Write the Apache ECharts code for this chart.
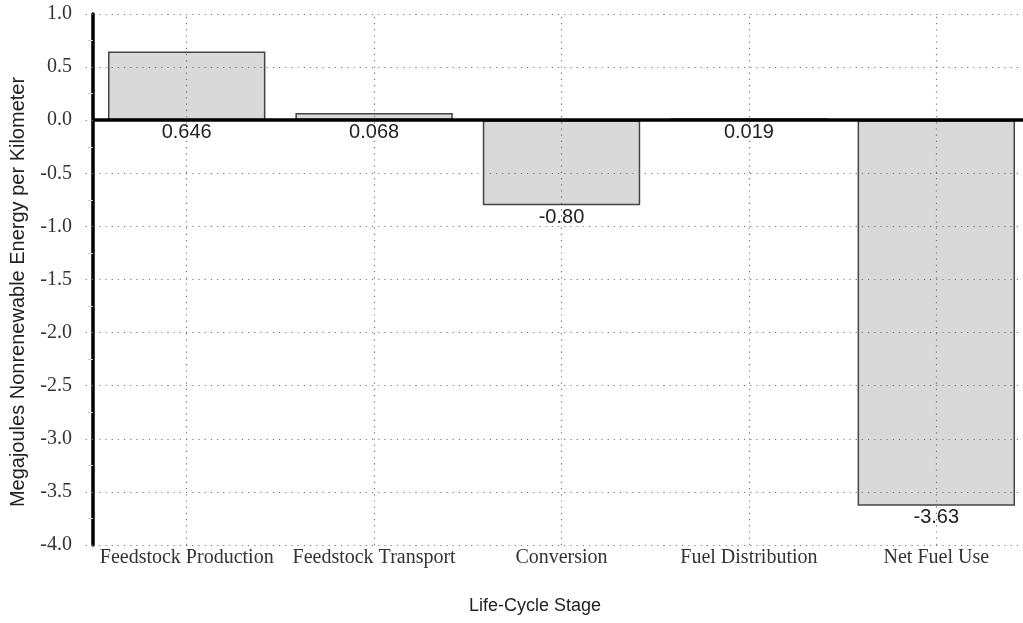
<!DOCTYPE html>
<html>
<head>
<meta charset="utf-8">
<script src="https://cdn.jsdelivr.net/npm/echarts@6/dist/echarts.min.js"></script>
<style>
html,body{margin:0;padding:0;background:#fff;}
#chart{width:1023px;height:623px;}
</style>
</head>
<body>
<div id="chart"></div>
<script>
const categories = ['Feedstock Production', 'Feedstock Transport', 'Conversion', 'Fuel Distribution', 'Net Fuel Use'];
const values = [0.646, 0.068, -0.80, 0.019, -3.63];
const valueLabels = ['0.646', '0.068', '-0.80', '0.019', '-3.63'];
const yMin = -4.0, yMax = 1.0, yStep = 0.5;
const yTitle = 'Megajoules Nonrenewable Energy per Kilometer';
const xTitle = 'Life-Cycle Stage';

const serif = '"Liberation Serif", "DejaVu Serif", serif';
const sans = '"Liberation Sans", Arial, sans-serif';
const dotted = { color: '#777', width: 1.2, type: [1.2, 5] };

const chart = echarts.init(document.getElementById('chart'), null, { renderer: 'canvas' });
chart.setOption({
  animation: false,
  backgroundColor: '#fff',
  grid: { left: 93, top: 14, width: 937, height: 531, containLabel: false, outerBoundsMode: 'none' },
  xAxis: {
    type: 'category',
    data: categories,
    boundaryGap: true,
    axisLine: { show: false, onZero: false },
    axisTick: { show: false },
    splitLine: { show: false },
    axisLabel: { fontFamily: serif, fontSize: 20, color: '#333', margin: 3, interval: 0 }
  },
  yAxis: {
    type: 'value',
    min: yMin, max: yMax, interval: yStep,
    z: 3,
    axisLine: { show: true, onZero: false, lineStyle: { color: '#000', width: 3.5 } },
    axisTick: { show: true, length: 8, inside: false, lineStyle: dotted },
    minorTick: { show: true, splitNumber: 2, length: 5, lineStyle: { color: '#ccc', width: 1 } },
    splitLine: { show: true, lineStyle: dotted },
    axisLabel: {
      fontFamily: serif, fontSize: 20, color: '#333', margin: 21,
      formatter: v => v.toFixed(1)
    }
  },
  graphic: [{
    type: 'text', x: 18, y: 292, rotation: Math.PI / 2,
    style: { text: yTitle, font: '20px ' + sans, fill: '#222', textAlign: 'center', textVerticalAlign: 'middle' }
  }, {
    type: 'text', x: 535, y: 606,
    style: { text: xTitle, font: '18px ' + sans, fill: '#222', textAlign: 'center', textVerticalAlign: 'middle' }
  }],
  series: [{
    type: 'bar',
    data: values,
    barWidth: '84%',
    itemStyle: { color: '#d9d9d9', borderColor: '#444', borderWidth: 1.5 },
    label: {
      show: true, position: 'bottom', distance: 2,
      fontFamily: sans, fontSize: 20, color: '#222',
      formatter: p => valueLabels[p.dataIndex]
    },
    markLine: {
      silent: true, symbol: 'none', z: 5,
      label: { show: false },
      data: categories.map(c => ({ xAxis: c, lineStyle: dotted }))
        .concat([{ yAxis: 0, lineStyle: { color: '#000', width: 3.5, type: 'solid' } }])
    }
  }]
});
</script>
</body>
</html>
